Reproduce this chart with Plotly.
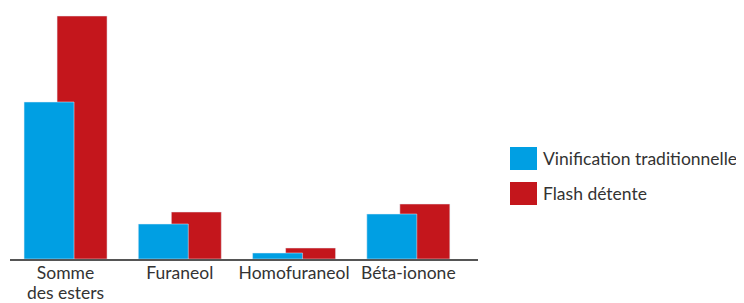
import plotly.graph_objects as go

categories = ["Somme des esters", "Furaneol", "Homofuraneol", "Béta-ionone"]
tick_labels = ["Somme<br>des esters", "Furaneol", "Homofuraneol", "Béta-ionone"]
series_names = ["Vinification traditionnelle", "Flash détente"]
vinification = [157, 35, 6, 45]
flash = [243, 47, 11, 55]
colors = ["#009FE3", "#C4161C"]

FONT = "Lato"

fig = go.Figure()
# red drawn first so blue sits on top (overlapping bars)
fig.add_trace(go.Bar(x=categories, y=flash, name=series_names[1], marker_color=colors[1],
                     width=0.4375, offset=-0.074, showlegend=False))
fig.add_trace(go.Bar(x=categories, y=vinification, name=series_names[0], marker_color=colors[0],
                     width=0.4375, offset=-0.363, showlegend=False))

# larger glyphs inside a smaller base font -> tighter line spacing like the reference
styled_ticks = ['<span style="font-size:17.5px">' + "</span><br><span style=\"font-size:17.5px\">".join(t.split("<br>")) + "</span>"
                for t in tick_labels]

# page has an 8px body margin, so the figure is sized/shifted to compensate
fig.update_layout(
    width=736, height=295,
    margin=dict(l=2, r=266, t=2, b=44),
    barmode="overlay",
    plot_bgcolor="white", paper_bgcolor="white",
    font=dict(family=FONT, size=17, color="#333333"),
    xaxis=dict(range=[-0.486, 3.61], showline=True, linecolor="#555555", linewidth=1.5,
               ticks="", showgrid=False, zeroline=False, automargin=False,
               tickmode="array", tickvals=categories, ticktext=styled_ticks,
               tickfont=dict(size=15.4, color="#333333")),
    yaxis=dict(range=[0, 249], visible=False),
    showlegend=False,
)

# legend drawn in paper coordinates relative to the plot area (page px 10..478, 10..259)
def px_x(x):
    return (x - 10) / 468

def px_y(y):
    return (259 - y) / 249

swatches = [(147, 170), (182, 205)]
for (y0, y1), name, c in zip(swatches, series_names, colors):
    fig.add_shape(type="rect", xref="paper", yref="paper",
                  x0=px_x(510), x1=px_x(537), y0=px_y(y1), y1=px_y(y0),
                  fillcolor=c, line=dict(width=0))
    fig.add_annotation(xref="paper", yref="paper", x=px_x(541), y=px_y((y0 + y1) / 2),
                       text=name, showarrow=False, xanchor="left", yanchor="middle",
                       font=dict(family=FONT, size=17.5, color="#333333"))

fig.write_html("out.html")
